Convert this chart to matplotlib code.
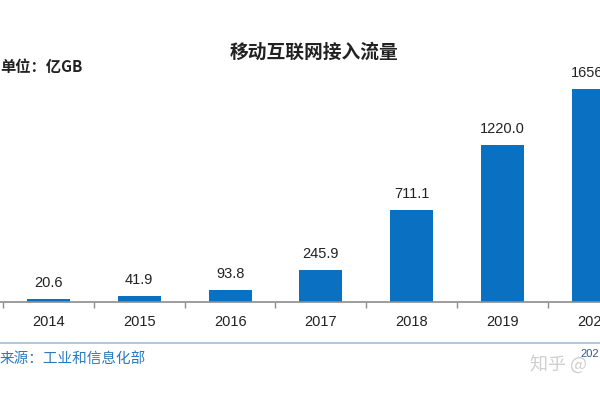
import matplotlib
matplotlib.use('Agg')
import matplotlib.pyplot as plt
import numpy as np

plt.rcParams['font.family'] = ['Noto Sans CJK SC', 'DejaVu Sans']

# данные
years = ['2014', '2015', '2016', '2017', '2018', '2019', '2020']
traffic = [20.6, 41.9, 93.8, 245.9, 711.1, 1220.0, 1656.0]
value_labels = ['20.6', '41.9', '93.8', '245.9', '711.1', '1220.0', '1656.0']

num_font = ['Liberation Sans', 'Noto Sans CJK SC']

fig = plt.figure(figsize=(6, 4), dpi=100)
ax = fig.add_axes([0, 0.246, 1, 0.754])

x = np.arange(len(years))
ax.bar(x, traffic, width=0.475, color='#0a70c2')

# подписи значений над столбцами
for xi, v, lab in zip(x, traffic, value_labels):
    ax.annotate(lab, (xi, v), xytext=(0, 8.5), textcoords='offset points',
                ha='center', va='baseline', fontsize=10.5, color='#222222',
                family=num_font)

# оси
for s in ['top', 'right', 'left']:
    ax.spines[s].set_visible(False)
ax.spines['bottom'].set_color('#8c8c8c')
ax.spines['bottom'].set_linewidth(1.2)
ax.set_yticks([])
ax.set_xticks(np.arange(-0.5, 6.6, 1))
ax.set_xticklabels([])
ax.tick_params(axis='x', direction='out', length=4, color='#8c8c8c', width=1)
ax.set_xlim(-0.534, 6.074)
ax.set_ylim(0, 2346)

for xi, y in zip(x, years):
    ax.annotate(y, (xi, 0), xytext=(0, -14.5), textcoords='offset points',
                ha='center', va='center', fontsize=10.5, color='#222222',
                family=num_font)

fig.text(0.524, 0.87, '移动互联网接入流量', ha='center', va='center',
         fontsize=13.5, fontweight='bold', color='#222222')
fig.text(0.0, 0.832, '单位：亿GB', ha='left', va='center',
         fontsize=11, fontweight='bold', color='#222222')

# нижняя линия и источник
fig.add_artist(plt.Line2D([0, 1], [0.143, 0.143], color='#9fbfdc', linewidth=1.2))
fig.text(0.0, 0.103, '来源：工业和信息化部', ha='left', va='center',
         fontsize=10.5, color='#2a7ac0')
fig.text(0.883, 0.088, '知乎 @', ha='left', va='center', fontsize=13, color='#cfcfcf')
fig.text(0.999, 0.115, '202', ha='right', va='center', fontsize=8, color='#2a5a90',
         family=num_font)

fig.savefig('out.png', dpi=100)
